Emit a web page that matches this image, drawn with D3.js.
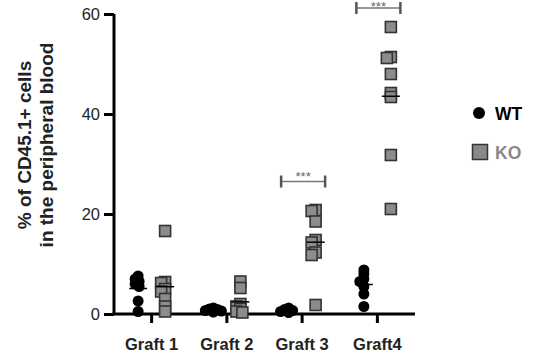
<!DOCTYPE html>
<html><head><meta charset="utf-8">
<script src="https://cdn.jsdelivr.net/npm/d3@7"></script>
<style>body{margin:0;background:#fff}svg{display:block;font-family:"Liberation Sans",Arial,Helvetica,sans-serif}</style>
</head><body><svg id="c" width="539" height="360"></svg>
<script>
const categories = ["Graft 1", "Graft 2", "Graft 3", "Graft4"];
const seriesNames = ["WT", "KO"];
const wtValues = [
  [7.6, 7.0, 6.5, 6.0, 5.5, 2.6, 0.5],
  [1.2, 1.0, 0.9, 0.7, 0.6, 0.4],
  [1.2, 0.9, 0.7, 0.5, 0.3],
  [8.8, 8.0, 7.0, 6.5, 5.5, 4.0, 1.5]
];
const koValues = [
  [16.6, 6.4, 6.2, 5.0, 4.5, 3.0, 1.5, 0.5],
  [6.5, 5.2, 2.0, 1.5, 1.0, 0.5, 0.3],
  [20.8, 20.6, 18.5, 14.8, 14.3, 12.3, 11.8, 1.8],
  [57.4, 51.4, 51.2, 48.0, 44.2, 43.4, 31.8, 21.0]
];
const yTicks = [0, 20, 40, 60];
const significance = [
  {category: "Graft 3", label: "***", level: 26.5},
  {category: "Graft4", label: "***", level: 61.2}
];
const yTitleLines = ["% of CD45.1+ cells", "in the peripheral blood"];

const svg = d3.select("#c");
const x = d3.scaleBand().domain(categories).range([114, 415]);
const y = d3.scaleLinear().domain([0, 60]).range([314, 14]);
const dodge = 13.5;
const koFill = "#8c8c8c", koStroke = "#333";

function swarm(vals, cx, diam) {
  const placed = [];
  const sorted = vals.slice().sort((a, b) => b - a);
  sorted.forEach(v => {
    const py = y(v);
    let off = 0;
    for (let k = 0; k < 60; k++) {
      const cand = (k % 2 === 0 ? 1 : -1) * Math.ceil(k / 2);
      const ok = placed.every(p => Math.hypot(p.x - (cx + cand), p.y - py) >= diam);
      if (ok) { off = cand; break; }
    }
    placed.push({x: cx + off, y: py, v});
  });
  return placed;
}

const yAxis = svg.append("g").attr("transform", "translate(114,0)")
  .call(d3.axisLeft(y).tickValues(yTicks).tickSize(10).tickPadding(4));
yAxis.select(".domain").attr("stroke", "#000").attr("stroke-width", 3).attr("d", `M0,${y(60)}V${y(0)}`);
yAxis.selectAll(".tick line").attr("stroke", "#000").attr("stroke-width", 3);
yAxis.selectAll(".tick text").attr("font-size", 16.5).attr("fill", "#222").attr("font-family", "Liberation Sans, Arial");

const xAxis = svg.append("g").attr("transform", "translate(0,314)")
  .call(d3.axisBottom(x).tickSize(9).tickPadding(15));
xAxis.select(".domain").attr("stroke", "#000").attr("stroke-width", 3).attr("d", "M112.5,0H415");
xAxis.selectAll(".tick line").attr("stroke", "#000").attr("stroke-width", 3);
xAxis.selectAll(".tick text").attr("font-size", 16.5).attr("font-weight", "bold").attr("fill", "#222").attr("font-family", "Liberation Sans, Arial");

const yt = svg.append("text").attr("transform", "translate(0,145) rotate(-90)")
  .attr("text-anchor", "middle").attr("font-size", 19).attr("font-weight", "bold").attr("fill", "#222");
yTitleLines.forEach((t, i) => yt.append("tspan").attr("x", 0).attr("y", 31 + i * 22).text(t));

categories.forEach((c, i) => {
  const cx = x(c) + x.bandwidth() / 2;
  const wt = swarm(wtValues[i], cx - dodge, 4);
  const ko = swarm(koValues[i], cx + dodge, 4);
  svg.append("g").selectAll("circle").data(wt).join("circle")
    .attr("cx", d => d.x).attr("cy", d => d.y).attr("r", 5.5).attr("fill", "#000");
  svg.append("g").selectAll("rect").data(ko).join("rect")
    .attr("x", d => d.x - 5.5).attr("y", d => d.y - 5.5).attr("width", 11).attr("height", 11)
    .attr("fill", koFill).attr("stroke", koStroke).attr("stroke-width", 1.6);
  [[wtValues[i], cx - dodge], [koValues[i], cx + dodge]].forEach(([vals, mx]) => {
    const m = d3.mean(vals);
    svg.append("line").attr("x1", mx - 9).attr("x2", mx + 9).attr("y1", y(m)).attr("y2", y(m))
      .attr("stroke", "#000").attr("stroke-width", 1.5);
  });
});

significance.forEach(s => {
  const cx = x(s.category) + x.bandwidth() / 2;
  const x1 = cx - 21, x2 = cx + 23, yy = y(s.level);
  const g = svg.append("g");
  g.append("line").attr("x1", x1).attr("x2", x2).attr("y1", yy).attr("y2", yy).attr("stroke", "#777").attr("stroke-width", 1.5);
  [x1, x2].forEach(xx => g.append("line").attr("x1", xx).attr("x2", xx).attr("y1", yy - 6).attr("y2", yy + 6)
    .attr("stroke", "#555").attr("stroke-width", 2.5));
  g.append("text").attr("x", (x1 + x2) / 2).attr("y", Math.max(yy - 1, 11)).attr("text-anchor", "middle")
    .attr("font-size", 13).attr("fill", "#666").text(s.label);
});

const lg = svg.append("g");
lg.append("circle").attr("cx", 479).attr("cy", 113).attr("r", 6).attr("fill", "#000");
lg.append("text").attr("x", 495).attr("y", 120).attr("font-size", 17.5).attr("font-weight", "bold").attr("fill", "#000").text(seriesNames[0]);
lg.append("rect").attr("x", 472.5).attr("y", 144.5).attr("width", 15).attr("height", 15).attr("fill", "#888").attr("stroke", "#333").attr("stroke-width", 1.5);
lg.append("text").attr("x", 495).attr("y", 159).attr("font-size", 17.5).attr("font-weight", "bold").attr("fill", "#888").text(seriesNames[1]);
</script></body></html>
